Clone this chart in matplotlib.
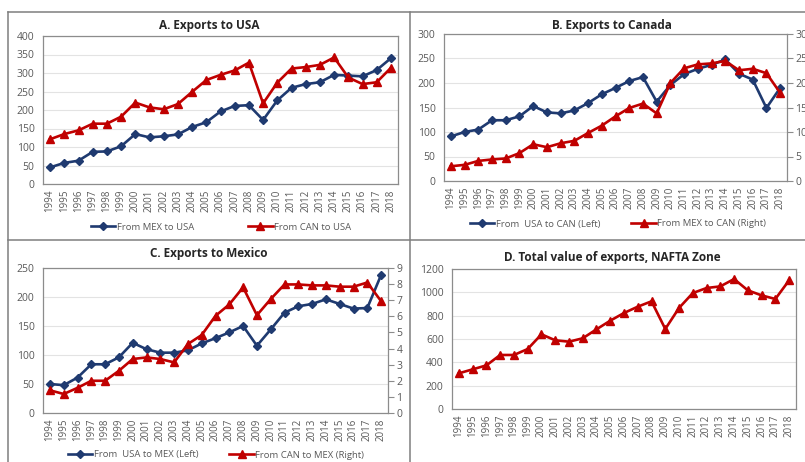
import matplotlib
matplotlib.use("Agg")
import matplotlib.pyplot as plt
from matplotlib.lines import Line2D

years = list(range(1994, 2019))

mex_to_usa = [45, 57, 63, 87, 88, 102, 135, 126, 129, 134, 154, 167, 196, 211, 213,
              173, 226, 260, 270, 275, 295, 293, 291, 308, 340]
can_to_usa = [121, 135, 145, 163, 163, 182, 220, 207, 202, 216, 249, 281, 295, 307, 328,
              218, 274, 312, 316, 322, 342, 288, 270, 275, 314]

usa_to_can = [91, 100, 105, 124, 124, 132, 153, 140, 138, 144, 159, 177, 190, 204, 212,
              162, 196, 218, 229, 237, 248, 219, 207, 149, 190]
mex_to_can = [3.0, 3.3, 4.1, 4.4, 4.6, 5.7, 7.5, 6.9, 7.7, 8.2, 9.8, 11.3, 13.2, 14.9, 15.8,
              13.8, 20.0, 23.0, 23.8, 24.0, 24.5, 22.6, 22.9, 22.0, 18.0]

usa_to_mex = [50, 48, 61, 84, 84, 96, 121, 110, 104, 104, 108, 120, 129, 139, 150,
              116, 144, 173, 184, 188, 196, 188, 180, 181, 238]
can_to_mex = [1.41, 1.18, 1.56, 2.0, 2.0, 2.62, 3.35, 3.45, 3.35, 3.14, 4.28, 4.84, 6.03, 6.74, 7.8,
              6.07, 7.07, 7.98, 7.98, 7.92, 7.92, 7.84, 7.84, 8.1, 6.94]

nafta_total = [306, 340, 374, 463, 463, 514, 640, 589, 577, 606, 683, 757, 823, 877, 923,
               686, 866, 994, 1037, 1051, 1114, 1017, 974, 943, 1103]

titles = ["A. Exports to USA", "B. Exports to Canada", "C. Exports to Mexico",
          "D. Total value of exports, NAFTA Zone"]

plt.rcParams['font.family'] = ['Open Sans', 'DejaVu Sans']

W, H = 805, 462
fig = plt.figure(figsize=(W / 100, H / 100), dpi=100)

BLUE = "#1F3A70"
RED = "#C00000"
GRAY_TXT = "#595959"
SPINE = "#8C8C8C"
GRID = "#E3E3E3"


def add_ax(x0, y0, x1, y1):
    return fig.add_axes([x0 / W, 1 - y1 / H, (x1 - x0) / W, (y1 - y0) / H])


def style(ax, ymax, ystep):
    ax.set_xlim(1993.5, 2018.5)
    ax.set_ylim(0, ymax)
    ax.set_yticks(range(0, ymax + 1, ystep))
    ax.set_xticks(years)
    ax.set_xticklabels([str(y) for y in years], rotation=90, fontsize=7, color=GRAY_TXT)
    ax.tick_params(axis='y', length=0, labelsize=7.5, labelcolor=GRAY_TXT, pad=6)
    ax.tick_params(axis='x', length=0, pad=4)
    ax.grid(axis='y', color=GRID, lw=0.8)
    ax.set_axisbelow(True)
    for s in ax.spines.values():
        s.set_color(SPINE)
        s.set_linewidth(0.9)


def style_right(ax2, ymax, ystep):
    ax2.set_xlim(1993.5, 2018.5)
    ax2.set_ylim(0, ymax)
    ax2.set_yticks(range(0, ymax + 1, ystep))
    ax2.tick_params(axis='y', length=4, color=SPINE, labelsize=7.5, labelcolor=GRAY_TXT, pad=2)
    for s in ax2.spines.values():
        s.set_visible(False)


blue_kw = dict(color=BLUE, lw=1.9, marker='D', ms=3.6, mfc=BLUE, mec=BLUE)
red_kw = dict(color=RED, lw=1.9, marker='^', ms=5.5, mfc=RED, mec=RED)

leg_kw = dict(loc='center', ncol=2, frameon=False, fontsize=6.8, handlelength=2.6,
              handletextpad=0.15, labelcolor=GRAY_TXT)

# Panel A
axA = add_ax(43, 36, 398, 184)
style(axA, 400, 50)
lA1, = axA.plot(years, mex_to_usa, label="From MEX to USA", **blue_kw)
lA2, = axA.plot(years, can_to_usa, label="From CAN to USA", **red_kw)
fig.text(209 / W, 1 - 25 / H, titles[0], ha='center', va='center', fontsize=8.5,
         fontweight='bold', color="#262626")
fig.legend(handles=[lA1, lA2], bbox_to_anchor=(221 / W, 1 - 227 / H), columnspacing=5.7,
           **leg_kw)

# Panel B
axB = add_ax(444, 34, 787, 181)
style(axB, 300, 50)
lB1, = axB.plot(years, usa_to_can, label="From  USA to CAN (Left)", **blue_kw)
axB2 = axB.twinx()
style_right(axB2, 30, 5)
lB2, = axB2.plot(years, mex_to_can, label="From MEX to CAN (Right)", **red_kw)
fig.text(612 / W, 1 - 26 / H, titles[1], ha='center', va='center', fontsize=8.5,
         fontweight='bold', color="#262626")
fig.legend(handles=[lB1, lB2], bbox_to_anchor=(618 / W, 1 - 224 / H), columnspacing=3.3,
           **leg_kw)

# Panel C
axC = add_ax(43, 268, 388, 413)
style(axC, 250, 50)
lC1, = axC.plot(years, usa_to_mex, label="From  USA to MEX (Left)", **blue_kw)
axC2 = axC.twinx()
style_right(axC2, 9, 1)
lC2, = axC2.plot(years, can_to_mex, label="From CAN to MEX (Right)", **red_kw)
fig.text(209 / W, 1 - 254 / H, titles[2], ha='center', va='center', fontsize=8.5,
         fontweight='bold', color="#262626")
fig.legend(handles=[lC1, lC2], bbox_to_anchor=(216 / W, 1 - 455 / H), columnspacing=3.3,
           **leg_kw)

# Panel D
axD = add_ax(452, 269, 796, 409)
style(axD, 1200, 200)
axD.plot(years, nafta_total, **red_kw)
fig.text(612 / W, 1 - 258 / H, titles[3], ha='center', va='center', fontsize=8.5,
         fontweight='bold', color="#262626")

# Panel borders
def fline(x0, y0, x1, y1):
    fig.add_artist(Line2D([x0 / W, x1 / W], [1 - y0 / H, 1 - y1 / H], color="#7F7F7F",
                          lw=1.1, transform=fig.transFigure))

fline(8, 12, 805, 12)
fline(8, 12, 8, 462)
fline(410, 12, 410, 462)
fline(8, 240, 805, 240)

fig.savefig("out.png", dpi=100)
